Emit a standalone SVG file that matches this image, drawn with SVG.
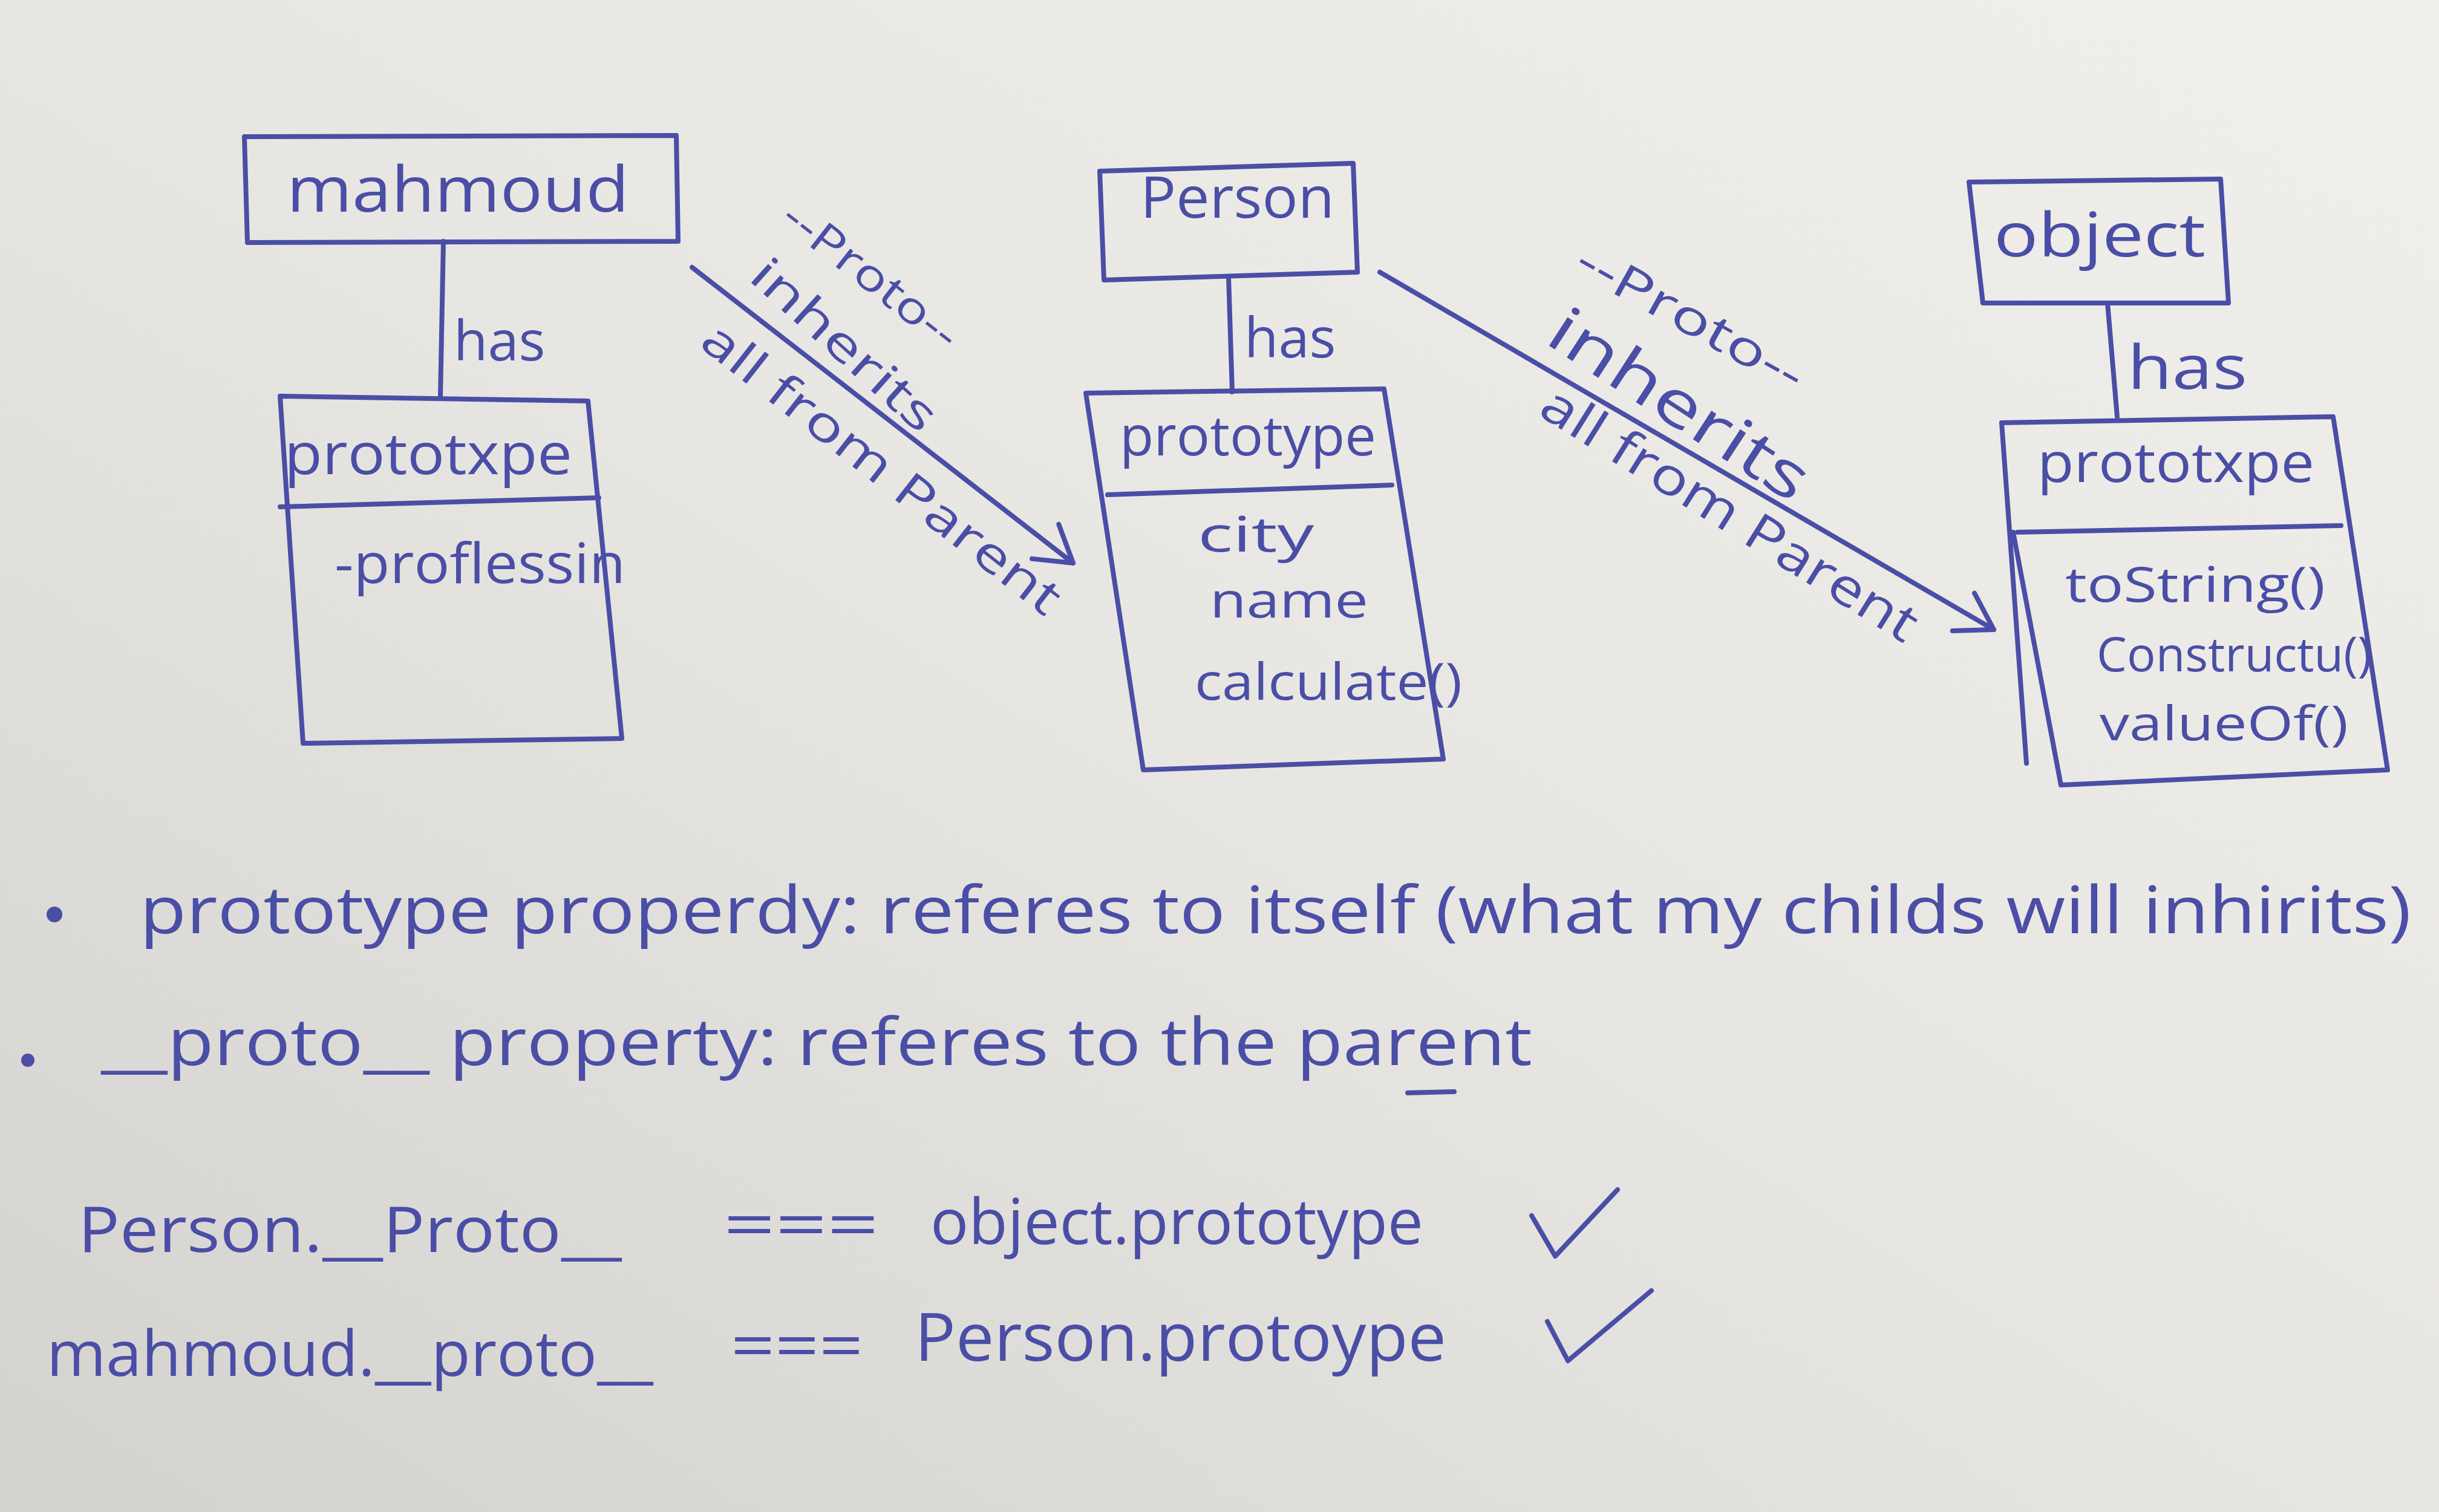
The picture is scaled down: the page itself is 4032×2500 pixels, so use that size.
<svg xmlns="http://www.w3.org/2000/svg" width="4032" height="2500" viewBox="0 0 4032 2500">
<defs>
<linearGradient id="paper" x1="1" y1="0" x2="0" y2="1">
<stop offset="0" stop-color="#f0efeb"/>
<stop offset="0.5" stop-color="#e8e6e2"/>
<stop offset="1" stop-color="#d4d2ce"/>
</linearGradient>
<marker id="arrow" markerUnits="userSpaceOnUse" viewBox="-70 -50 80 100" markerWidth="80" markerHeight="100" refX="0" refY="0" orient="auto">
<path d="M-58,-36 L0,0 L-58,36" fill="none" stroke="#4a4ea6" stroke-width="8" stroke-linecap="round" stroke-linejoin="round"/>
</marker>
<style>
.ink{fill:none;stroke:#4a4ea6;stroke-width:8;stroke-linecap:round;stroke-linejoin:round}
.t{font-family:"Open Sans","Liberation Sans",sans-serif;fill:#4a4ea6}
.c{text-anchor:middle}
</style>
</defs>
<rect x="0" y="0" width="4032" height="2500" fill="url(#paper)"/>

<g id="connectors">
<path class="ink" d="M733,399 L728,655"/>
<path class="ink" d="M2031,458 L2037,648"/>
<path class="ink" d="M3484,501 L3500,689"/>
<path class="ink" d="M1144,442 L1774,931" marker-end="url(#arrow)"/>
<path class="ink" d="M2281,450 L3296,1041" marker-end="url(#arrow)"/>
</g>

<g id="edge-labels">
<text class="t c" font-size="72" textLength="350" lengthAdjust="spacingAndGlyphs" transform="translate(1440,455) rotate(38)" dy="25">--Proto--</text>
<text class="t c" font-size="78" textLength="385" lengthAdjust="spacingAndGlyphs" transform="translate(1396,570) rotate(42)" dy="27">inherits</text>
<text class="t c" font-size="80" textLength="730" lengthAdjust="spacingAndGlyphs" transform="translate(1458,774) rotate(38)" dy="28">all from Parent</text>
<text class="t" font-size="92" x="750" y="596">has</text>
<text class="t" font-size="92" x="2057" y="591">has</text>
<text class="t" font-size="100" x="3517" y="643" textLength="198" lengthAdjust="spacingAndGlyphs">has</text>
<text class="t c" font-size="78" textLength="419" lengthAdjust="spacingAndGlyphs" transform="translate(2795,525) rotate(29)" dy="27">--Proto--</text>
<text class="t c" font-size="105" textLength="491" lengthAdjust="spacingAndGlyphs" transform="translate(2777,668) rotate(33)" dy="37">inherits</text>
<text class="t c" font-size="85" textLength="717" lengthAdjust="spacingAndGlyphs" transform="translate(2860,849) rotate(32)" dy="30">all from Parent</text>
</g>

<g id="node-mahmoud">
<path class="ink" d="M404,226 L1118,224 L1121,399 L409,401 Z"/>
<text class="t" font-size="105" x="474" y="350" textLength="566" lengthAdjust="spacingAndGlyphs">mahmoud</text>
</g>

<g id="node-mahmoud-prototype">
<path class="ink" d="M463,655 L972,663 L1028,1221 L501,1229 Z"/>
<path class="ink" d="M463,838 L990,823"/>
<text class="t" font-size="95" x="470" y="784" textLength="476" lengthAdjust="spacingAndGlyphs">prototxpe</text>
<text class="t" font-size="92" x="553" y="964" textLength="481" lengthAdjust="spacingAndGlyphs">-proflessin</text>
</g>

<g id="node-person">
<path class="ink" d="M1818,283 L2237,270 L2244,450 L1825,463 Z"/>
<text class="t" font-size="95" x="1885" y="360" textLength="321" lengthAdjust="spacingAndGlyphs">Person</text>
</g>

<g id="node-person-prototype">
<path class="ink" d="M1795,650 L2288,643 L2386,1255 L1890,1273 Z"/>
<path class="ink" d="M1831,818 L2301,802"/>
<text class="t" font-size="92" x="1851" y="753" textLength="424" lengthAdjust="spacingAndGlyphs">prototype</text>
<text class="t" font-size="80" x="1980" y="912" textLength="192" lengthAdjust="spacingAndGlyphs">city</text>
<text class="t" font-size="80" x="2000" y="1021" textLength="262" lengthAdjust="spacingAndGlyphs">name</text>
<text class="t" font-size="84" x="1975" y="1157" textLength="442" lengthAdjust="spacingAndGlyphs">calculate()</text>
</g>

<g id="node-object">
<path class="ink" d="M3255,301 L3671,296 L3684,501 L3278,501 Z"/>
<text class="t" font-size="100" x="3296" y="424" textLength="350" lengthAdjust="spacingAndGlyphs">object</text>
</g>

<g id="node-object-prototype">
<path class="ink" d="M3350,1262 L3309,699 L3857,689 L3947,1273 L3407,1298 L3328,880"/>
<path class="ink" d="M3335,880 L3870,869"/>
<text class="t" font-size="92" x="3368" y="797" textLength="458" lengthAdjust="spacingAndGlyphs">prototxpe</text>
<text class="t" font-size="80" x="3414" y="995" textLength="430" lengthAdjust="spacingAndGlyphs">toString()</text>
<text class="t" font-size="78" x="3466" y="1110" textLength="455" lengthAdjust="spacingAndGlyphs">Constructu()</text>
<text class="t" font-size="78" x="3471" y="1224" textLength="411" lengthAdjust="spacingAndGlyphs">valueOf()</text>
</g>

<g id="notes">
<circle cx="90" cy="1512" r="13" fill="#4a4ea6"/>
<text class="t" font-size="108" x="231" y="1543" textLength="3755" lengthAdjust="spacingAndGlyphs">prototype  properdy:  referes  to  itself (what my childs  will inhirits)</text>
<circle cx="46" cy="1753" r="11" fill="#4a4ea6"/>
<text class="t" font-size="108" x="167" y="1761" textLength="2366" lengthAdjust="spacingAndGlyphs">__proto__  property:  referes  to  the  parent</text>
<path class="ink" d="M2327,1807 L2404,1805"/>

<text class="t" font-size="105" x="129" y="2070" textLength="899" lengthAdjust="spacingAndGlyphs">Person.__Proto__</text>
<text class="t" font-size="105" x="1196" y="2062" textLength="257" lengthAdjust="spacingAndGlyphs">===</text>
<text class="t" font-size="105" x="1538" y="2057" textLength="815" lengthAdjust="spacingAndGlyphs">object.prototype</text>
<path class="ink" d="M2532,2010 L2571,2077 L2674,1967"/>

<text class="t" font-size="105" x="77" y="2275" textLength="1003" lengthAdjust="spacingAndGlyphs">mahmoud.__proto__</text>
<text class="t" font-size="105" x="1208" y="2262" textLength="219" lengthAdjust="spacingAndGlyphs">===</text>
<text class="t" font-size="110" x="1512" y="2250" textLength="879" lengthAdjust="spacingAndGlyphs">Person.protoype</text>
<path class="ink" d="M2558,2185 L2592,2250 L2730,2134"/>
</g>
</svg>
